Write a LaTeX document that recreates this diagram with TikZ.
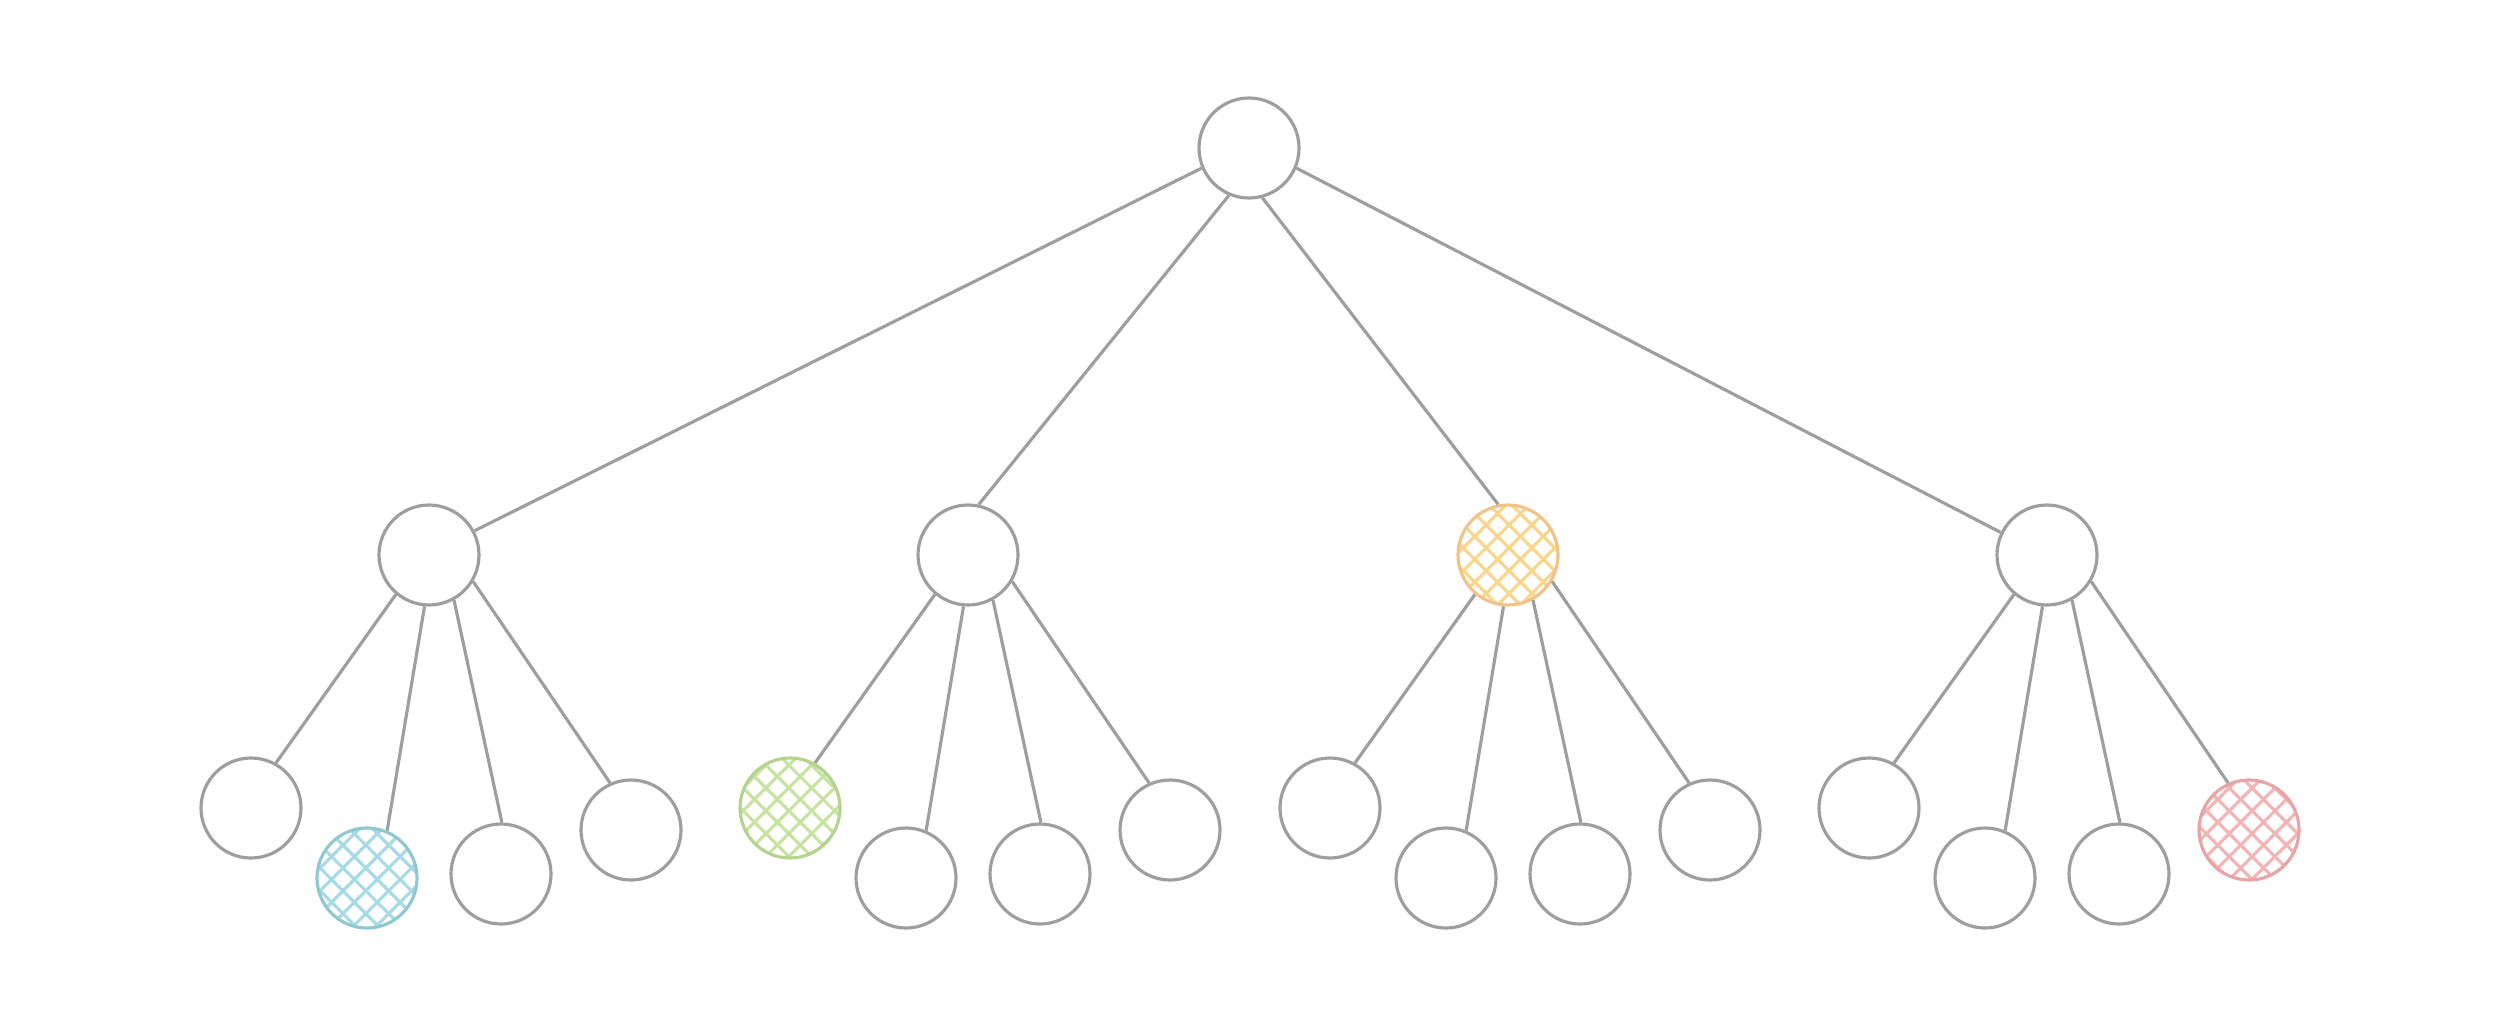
\documentclass[tikz,border=0pt]{standalone}
\usetikzlibrary{patterns.meta}
\definecolor{edgegray}{HTML}{9E9E9E}
\definecolor{skyline}{HTML}{8FC7D3}
\definecolor{skyfill}{HTML}{A6DAE5}
\definecolor{leafline}{HTML}{B3D38E}
\definecolor{leaffill}{HTML}{C7E3A2}
\definecolor{sunline}{HTML}{F0C38A}
\definecolor{sunfill}{HTML}{FAD58C}
\definecolor{roseline}{HTML}{E8A4A4}
\definecolor{rosefill}{HTML}{F2B4B4}
\tikzstyle{vertex} = [circle, minimum size=1cm, inner sep=0pt, draw=edgegray, line width=0.9pt, fill=white]
\tikzstyle{hatched} = [vertex, preaction={fill=white}, preaction={pattern={Lines[angle=45, distance=4.6pt, line width=0.9pt]}, pattern color=#1}, pattern={Lines[angle=-45, distance=4.6pt, line width=0.9pt]}, pattern color=#1]
\tikzstyle{link} = [draw=edgegray, line width=0.9pt]

\begin{document}
\begin{tikzpicture}
	\useasboundingbox (0,0) rectangle (25,-10.28);

	% root and middle row
	\node (root) [vertex] at (12.49,-1.48) {};
	\node (a) [vertex] at (4.29,-5.55) {};
	\node (b) [vertex] at (9.68,-5.55) {};
	\node (c) [hatched=sunfill, draw=sunline] at (15.08,-5.55) {};
	\node (d) [vertex] at (20.47,-5.55) {};

	% leaves
	\node (a1) [vertex] at (2.51,-8.08) {};
	\node (a2) [hatched=skyfill, draw=skyline] at (3.67,-8.78) {};
	\node (a3) [vertex] at (5.01,-8.74) {};
	\node (a4) [vertex] at (6.31,-8.30) {};

	\node (b1) [hatched=leaffill, draw=leafline] at (7.90,-8.08) {};
	\node (b2) [vertex] at (9.06,-8.78) {};
	\node (b3) [vertex] at (10.40,-8.74) {};
	\node (b4) [vertex] at (11.70,-8.30) {};

	\node (c1) [vertex] at (13.30,-8.08) {};
	\node (c2) [vertex] at (14.46,-8.78) {};
	\node (c3) [vertex] at (15.80,-8.74) {};
	\node (c4) [vertex] at (17.10,-8.30) {};

	\node (d1) [vertex] at (18.69,-8.08) {};
	\node (d2) [vertex] at (19.85,-8.78) {};
	\node (d3) [vertex] at (21.19,-8.74) {};
	\node (d4) [hatched=rosefill, draw=roseline] at (22.49,-8.30) {};

	% edges
	\draw [link] (root.203) -- (a.28);
	\draw [link] (root.247) -- (b.78);
	\draw [link] (root.285) -- (c.101);
	\draw [link] (root.337) -- (d.154);
	\foreach \m in {a,b,c,d}
		\foreach \k/\s/\e in {1/230/61, 2/265/67, 3/299/89, 4/329/114}
			\draw [link] (\m.\s) -- (\m\k.\e);
\end{tikzpicture}
\end{document}
